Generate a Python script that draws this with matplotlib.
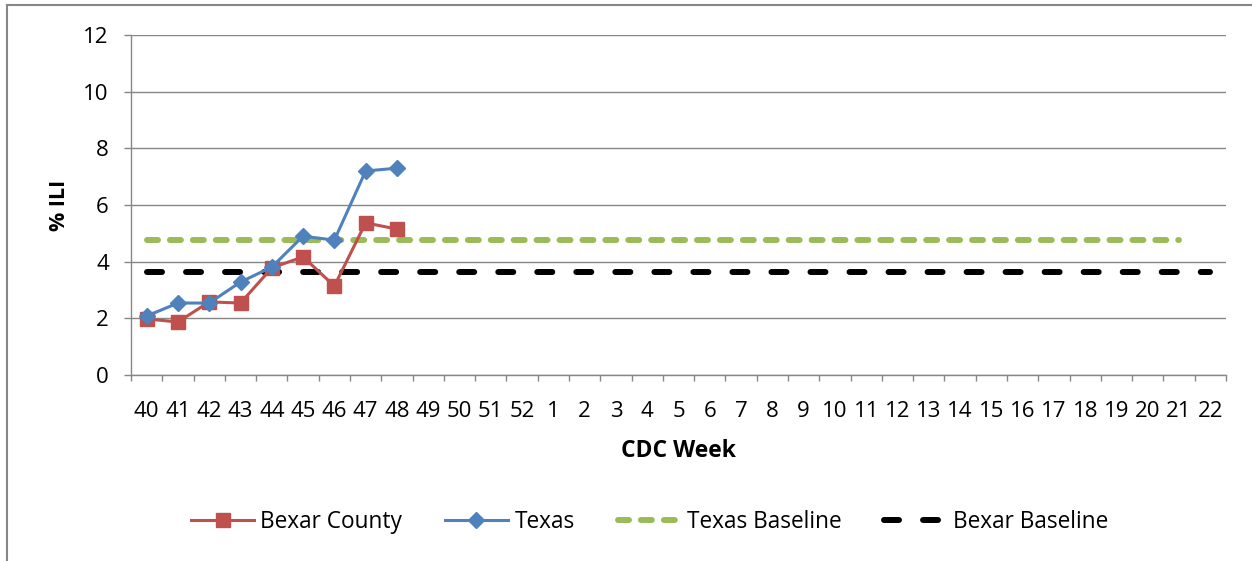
import numpy as np
import matplotlib
matplotlib.use("Agg")
import matplotlib.pyplot as plt
from matplotlib.lines import Line2D

plt.rcParams['font.family'] = ['Open Sans', 'DejaVu Sans']
plt.rcParams['lines.scale_dashes'] = False

# CDC weeks (Oct through May)
weeks = [str(w) for w in range(40, 53)] + [str(w) for w in range(1, 23)]
bexar = [1.98, 1.87, 2.58, 2.54, 3.78, 4.17, 3.14, 5.37, 5.15]
texas = [2.08, 2.54, 2.54, 3.28, 3.81, 4.90, 4.76, 7.20, 7.30]
texas_baseline = 4.76
bexar_baseline = 3.62
texas_baseline_weeks = 34   # runs through week 21
bexar_baseline_weeks = 35   # runs through week 22

grid_col = '#878787'
red = '#C0504D'
blue = '#4F81BD'
green = '#9BBB59'

fig = plt.figure(figsize=(12.52, 5.61), dpi=100)
ax = fig.add_axes([131 / 1252, 1 - 375 / 561, (1226 - 131) / 1252, (375 - 35) / 561])

x = np.arange(len(weeks))

# baselines
ax.plot(x[:texas_baseline_weeks], [texas_baseline] * texas_baseline_weeks, color=green,
        lw=4.3, dashes=(7.9, 8.6), dash_capstyle='round', label='Texas Baseline', zorder=3)
ax.plot(x[:bexar_baseline_weeks], [bexar_baseline] * bexar_baseline_weeks, color='black',
        lw=4.3, dashes=(10.8, 17.3), dash_capstyle='round', label='Bexar Baseline', zorder=3)

# series
ax.plot(x[:len(bexar)], bexar, color=red, lw=2.2, marker='s', markersize=10,
        label='Bexar County', zorder=4)
ax.plot(x[:len(texas)], texas, color=blue, lw=2.2, marker='D', markersize=8,
        label='Texas', zorder=5)

ax.set_xlim(-0.5, len(weeks) - 0.5)
ax.set_ylim(0, 12)
ax.set_yticks(range(0, 13, 2))
ax.set_xticks(x)
ax.set_xticklabels(weeks)
ax.set_xticks(np.arange(-0.5, len(weeks), 1), minor=True)
ax.tick_params(axis='x', which='major', length=0, pad=18.5, labelsize=16)
ax.tick_params(axis='x', which='minor', length=4.5, width=1, color=grid_col, direction='out')
ax.tick_params(axis='y', length=5, width=1, color=grid_col, pad=11, labelsize=16)

ax.grid(axis='y', color=grid_col, lw=1)
ax.set_axisbelow(True)
for s in ['top', 'right']:
    ax.spines[s].set_visible(False)
for s in ['left', 'bottom']:
    ax.spines[s].set_color(grid_col)
    ax.spines[s].set_linewidth(1)

ax.set_xlabel('CDC Week', fontsize=16.5, fontweight='bold')
ax.xaxis.set_label_coords(0.5, (375 - 439) / 340)
ax.set_ylabel('% ILI', fontsize=15.5, fontweight='bold')
ax.yaxis.set_label_coords((70 - 131) / 1095, 0.5)

handles, labels = ax.get_legend_handles_labels()
order = [2, 3, 0, 1]
fig.legend([handles[i] for i in order], [labels[i] for i in order],
           loc='center', bbox_to_anchor=(650 / 1252, 1 - 522 / 561), ncol=4,
           frameon=False, fontsize=16.3, handlelength=2.75, handletextpad=0.3,
           columnspacing=1.9)

# chart border (left and top edges visible)
fig.add_artist(Line2D([7 / 1252, 7 / 1252], [0, 1 - 5 / 561], color=grid_col, lw=1.5))
fig.add_artist(Line2D([7 / 1252, 1], [1 - 5 / 561, 1 - 5 / 561], color=grid_col, lw=1.5))

fig.savefig('out.png', dpi=100)
